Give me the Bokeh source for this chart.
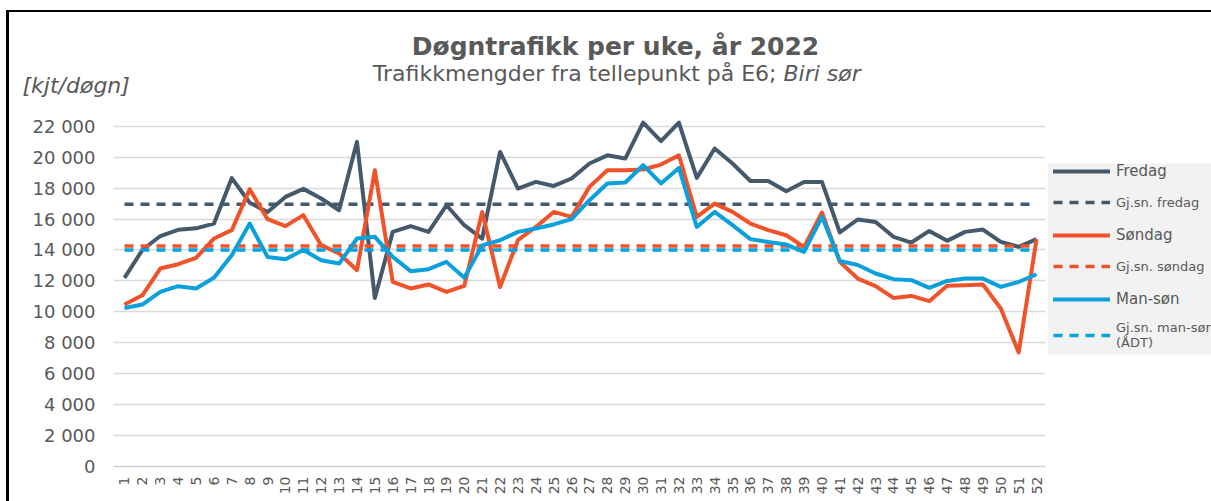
import math
from bokeh.plotting import figure
from bokeh.layouts import column, row
from bokeh.models import (Range1d, FixedTicker, CustomJSTickFormatter, Legend, LegendItem,
                          BoxAnnotation)
from bokeh.core.properties import value
from bokeh.embed import file_html
from bokeh.resources import INLINE

weeks = list(range(1, 53))
fredag = [12200, 14000, 14900, 15300, 15400, 15700, 18650, 17050, 16450, 17430,
          17950, 17330, 16570, 20990, 10900, 15170, 15540, 15170, 16890, 15600,
          14740, 20340, 17970, 18400, 18140, 18620, 19590, 20120, 19910, 22240,
          21030, 22240, 18660, 20560, 19590, 18460, 18460, 17800, 18400, 18400,
          15130, 15970, 15810, 14850, 14480, 15230, 14590, 15170, 15320, 14520,
          14200, 14700]
sondag = [10470, 11070, 12800, 13080, 13490, 14740, 15280, 17930, 15990, 15540,
          16250, 14310, 13770, 12690, 19150, 11930, 11510, 11770, 11290, 11680,
          16460, 11610, 14630, 15490, 16460, 16140, 18080, 19150, 19150, 19200,
          19520, 20120, 16140, 17000, 16460, 15710, 15280, 14950, 14200, 16420,
          13230, 12150, 11660, 10900, 11030, 10690, 11680, 11720, 11770, 10220,
          7370, 14700]
man_son = [10250, 10470, 11290, 11660, 11510, 12200, 13660, 15710, 13550, 13400,
           14000, 13340, 13120, 14740, 14850, 13550, 12630, 12760, 13230, 12200,
           14300, 14630, 15170, 15390, 15650, 15990, 17220, 18300, 18360, 19480,
           18300, 19300, 15490, 16460, 15600, 14700, 14520, 14350, 13880, 16140,
           13290, 13030, 12480, 12110, 12050, 11550, 12000, 12150, 12150, 11610,
           11930, 12430]
avg_fredag = 16950
avg_sondag = 14260
avg_man_son = 14000
y_ticks = list(range(0, 22001, 2000))
main_names = ["Fredag", "Søndag", "Man-søn"]
avg_names = ["Gj.sn. fredag", "Gj.sn. søndag", "Gj.sn. man-søn\n(ÅDT)"]
title_text = "Døgntrafikk per uke, år 2022"
subtitle_text = "Trafikkmengder fra tellepunkt på E6;"
subtitle_place = "Biri sør"
unit_text = "[kjt/døgn]"

C_F = "#44596b"
C_S = "#f0522a"
C_M = "#0aa0dc"
COLORS = [C_F, C_S, C_M]
TXT = "#595959"
FONT = "DejaVu Sans"

# ---------- title strip ----------
tp = figure(width=1202, height=98, output_backend="svg", toolbar_location=None,
            x_range=Range1d(9, 1211), y_range=Range1d(110, 12),
            x_axis_type=None, y_axis_type=None,
            min_border_left=0, min_border_right=0, min_border_top=0, min_border_bottom=0)
tp.outline_line_color = None
tp.xgrid.visible = False
tp.ygrid.visible = False
tp.text(x=[615], y=[46], text=[title_text], text_align="center", text_baseline="alphabetic",
        text_font=value(FONT), text_font_size="25px", text_font_style="bold", text_color=TXT)
tp.text(x=[776], y=[73], text=[subtitle_text], text_align="right", text_baseline="alphabetic",
        text_font=value(FONT), text_font_size="22px", text_color=TXT)
tp.text(x=[783], y=[73], text=[subtitle_place], text_align="left", text_baseline="alphabetic",
        text_font=value(FONT), text_font_size="22px", text_font_style="italic", text_color=TXT)
tp.text(x=[22], y=[85], text=[unit_text], text_align="left", text_baseline="alphabetic",
        text_font=value(FONT), text_font_size="22px", text_font_style="italic", text_color=TXT)

# ---------- main chart ----------
p = figure(width=1038, height=391, output_backend="svg", toolbar_location=None,
           x_range=Range1d(0.385, 52.5), y_range=Range1d(0, 22500),
           min_border_left=104, min_border_right=2, min_border_top=8,
           min_border_bottom=35)
p.outline_line_color = None
p.xgrid.visible = False
p.ygrid.grid_line_color = "#d9d9d9"
p.ygrid.grid_line_width = 1.5

ya = p.yaxis[0]
ya.ticker = FixedTicker(ticks=y_ticks)
ya.formatter = CustomJSTickFormatter(code="return String(tick).replace(/\\B(?=(\\d{3})+(?!\\d))/g, ' ');")
ya.axis_line_color = None
ya.major_tick_line_color = None
ya.minor_tick_line_color = None
ya.major_tick_out = 0
ya.major_label_standoff = 18
ya.major_label_text_font = FONT
ya.major_label_text_font_size = "18px"
ya.major_label_text_color = TXT

xa = p.xaxis[0]
xa.ticker = FixedTicker(ticks=weeks)
xa.major_label_orientation = math.pi / 2
xa.axis_line_color = "#d0d0d0"
xa.axis_line_width = 1.5
xa.major_tick_line_color = None
xa.minor_tick_line_color = None
xa.major_tick_out = 0
xa.major_label_standoff = 10
xa.major_label_text_font = FONT
xa.major_label_text_font_size = "14px"
xa.major_label_text_color = TXT

series = [fredag, sondag, man_son]
avgs = [avg_fredag, avg_sondag, avg_man_son]
for vals, avg, col in zip(series, avgs, COLORS):
    p.line(weeks, vals, line_color=col, line_width=4, line_join="round")
    p.line(weeks, [avg] * len(weeks), line_color=col, line_width=3.5, line_dash="9 7")

# ---------- legend panel (frame aligned with the chart frame: page y 118..466) ----------
lp = figure(width=164, height=391, output_backend="svg", toolbar_location=None,
            x_range=Range1d(1047, 1211), y_range=Range1d(466, 118),
            x_axis_type=None, y_axis_type=None,
            min_border_left=0, min_border_right=0, min_border_top=8, min_border_bottom=35)
lp.outline_line_color = None
lp.xgrid.visible = False
lp.ygrid.visible = False
lp.add_layout(BoxAnnotation(left=1047, right=1211, top=163, bottom=354,
                            fill_color="#f2f2f2", fill_alpha=1.0, line_color=None))

solid_items, avg_items = [], []
for name, aname, col in zip(main_names, avg_names, COLORS):
    rs = lp.line(x=[math.nan], y=[math.nan], line_color=col, line_width=4, line_cap="round")
    ra = lp.line(x=[math.nan], y=[math.nan], line_color=col, line_width=3.5, line_dash="9 7")
    solid_items.append(LegendItem(label=name, renderers=[rs]))
    avg_items.append(LegendItem(label=aname, renderers=[ra]))

common = dict(orientation="vertical", label_text_font=FONT, label_text_color=TXT,
              glyph_width=57, glyph_height=20, label_height=20, label_standoff=6,
              spacing=44, padding=0, margin=0, background_fill_alpha=0.0,
              border_line_color=None)
legA = Legend(items=solid_items, location=(6, 157), label_text_font_size="15px", **common)
legB = Legend(items=avg_items, location=(6, 116), label_text_font_size="13px", **common)
lp.add_layout(legA, "center")
lp.add_layout(legB, "center")

layout = column(tp, row(p, lp, spacing=0), spacing=0,
                styles={"margin-left": "6px", "margin-top": "10px",
                        "border-left": "3px solid #000", "border-top": "2px solid #000"})

open("out.html", "w").write(file_html(layout, INLINE))
